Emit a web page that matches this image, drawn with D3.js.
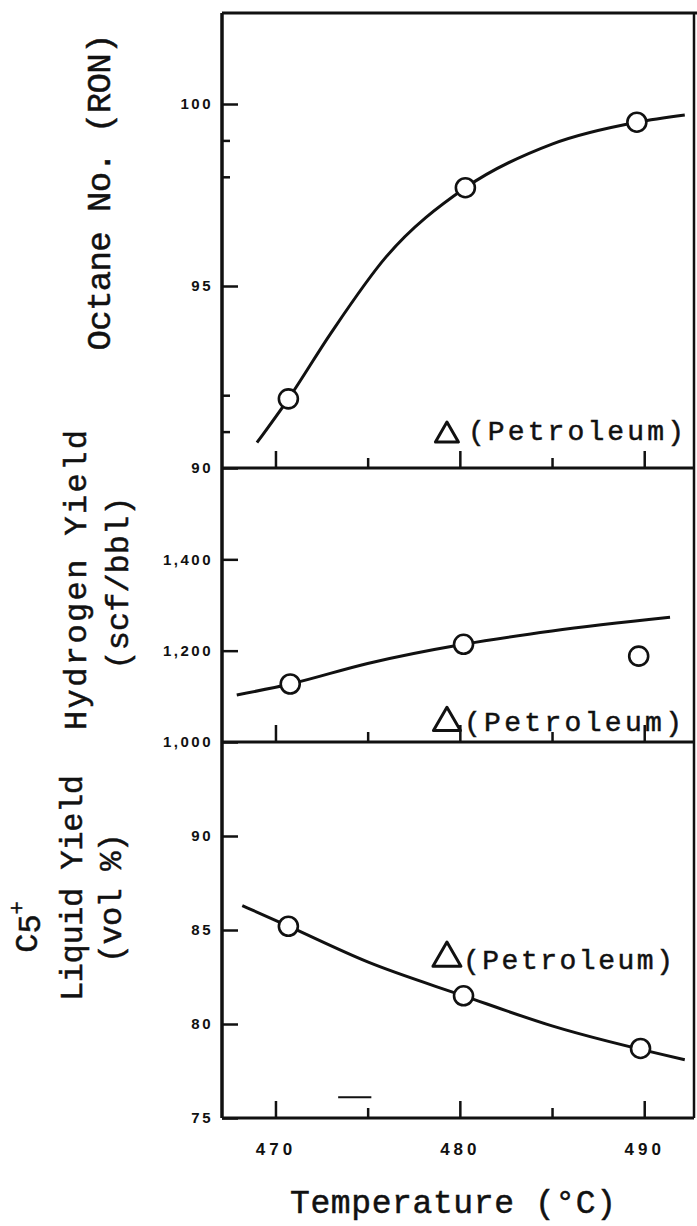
<!DOCTYPE html>
<html>
<head>
<meta charset="utf-8">
<script src="https://cdn.jsdelivr.net/npm/d3@7"></script>
<style>
  body { margin: 0; background: #fff; }
  svg { display: block; }
  .tick text { font-family: "Liberation Sans", Arial, sans-serif; font-weight: bold; fill: #111; }
  .title { stroke: #111; stroke-width: 0.5px; }
</style>
</head>
<body>
<div id="chart"></div>
<script>
// temperature axis (shared by all three panels)
const tempDomain = [467.1, 492.7];
const tempMajor = [470, 480, 490];
const tempMinor = [475, 485];

// top panel: octane number
const octaneDomain = [90, 102.5];
const octaneTicks = [90, 95, 100];
const octaneMinor = [91, 92, 98, 99];
const octaneTemp = [470.7, 480.3, 489.6];
const octaneRon = [91.9, 97.7, 99.5];
const octaneFitTemp = [469.0, 470.7, 473, 476, 480.3, 485, 489.6, 492.2];
const octaneFitRon = [90.7, 91.9, 93.7, 95.8, 97.7, 98.9, 99.5, 99.7];
const octanePetroleum = [479.3, 90.9];

// middle panel: hydrogen yield
const hydrogenDomain = [1000, 1600];
const hydrogenTicks = [1000, 1200, 1400];
const hydrogenTemp = [470.8, 480.2, 489.7];
const hydrogenYield = [1127, 1214, 1188];
const hydrogenFitTemp = [467.9, 470.8, 475, 480.2, 485, 491.4];
const hydrogenFitYield = [1103, 1127, 1172, 1214, 1243, 1273];
const hydrogenPetroleum = [479.3, 1042];

// bottom panel: C5+ liquid yield
const liquidDomain = [75, 95];
const liquidTicks = [75, 80, 85, 90];
const liquidTemp = [470.7, 480.2, 489.8];
const liquidYield = [85.2, 81.5, 78.7];
const liquidFitTemp = [468.2, 470.7, 475, 480.2, 485, 492.2];
const liquidFitYield = [86.3, 85.2, 83.3, 81.5, 79.9, 78.1];
const liquidPetroleum = [479.3, 83.5];

const width = 697, height = 1226;
const frameLeft = 222, frameRight = 694, frameTop = 13, frameBottom = 1118;
const ink = "#111";
const mono = "'Liberation Mono', 'DejaVu Sans Mono', monospace";

const svg = d3.select("#chart").append("svg")
    .attr("width", width)
    .attr("height", height);

const x = d3.scaleLinear().domain(tempDomain).range([frameLeft, frameRight]);

const panels = [
  {
    y: d3.scaleLinear().domain(octaneDomain).range([468, frameTop]),
    ticks: octaneTicks, minor: octaneMinor, fmt: d3.format("d"),
    temp: octaneTemp, vals: octaneRon,
    fitT: octaneFitTemp, fitV: octaneFitRon,
    pet: octanePetroleum, triSize: 229, petDx: 21, petDy: 5, petLen: 216
  },
  {
    y: d3.scaleLinear().domain(hydrogenDomain).range([742, 468]),
    ticks: hydrogenTicks, minor: [], fmt: d3.format(","),
    temp: hydrogenTemp, vals: hydrogenYield,
    fitT: hydrogenFitTemp, fitV: hydrogenFitYield,
    pet: hydrogenPetroleum, triSize: 315, petDx: 17, petDy: 8, petLen: 218
  },
  {
    y: d3.scaleLinear().domain(liquidDomain).range([frameBottom, 742]),
    ticks: liquidTicks, minor: [], fmt: d3.format("d"),
    temp: liquidTemp, vals: liquidYield,
    fitT: liquidFitTemp, fitV: liquidFitYield,
    pet: liquidPetroleum, triSize: 339, petDx: 16, petDy: 11, petLen: 210,
    last: true
  }
];

panels.forEach(p => {
  const yBottom = p.y.range()[0];

  // y ticks pointing inward
  const yAxis = svg.append("g")
      .attr("transform", `translate(${frameLeft},0)`)
      .call(d3.axisLeft(p.y).tickValues(p.ticks).tickSize(-16).tickPadding(9).tickFormat(p.fmt));
  yAxis.select(".domain").remove();
  yAxis.selectAll("line").attr("stroke", ink).attr("stroke-width", 2.5);
  yAxis.selectAll("text").style("font-size", "15px").attr("letter-spacing", 2.5);

  if (p.minor.length) {
    const yMinor = svg.append("g")
        .attr("transform", `translate(${frameLeft},0)`)
        .call(d3.axisLeft(p.y).tickValues(p.minor).tickSize(-8).tickFormat(""));
    yMinor.select(".domain").remove();
    yMinor.selectAll("line").attr("stroke", ink).attr("stroke-width", 2.5);
  }

  // temperature ticks pointing up from each panel floor
  const xAxis = svg.append("g")
      .attr("transform", `translate(0,${yBottom})`)
      .call(d3.axisBottom(x).tickValues(tempMajor).tickSize(-17).tickPadding(25)
        .tickFormat(p.last ? d3.format("d") : ""));
  xAxis.select(".domain").remove();
  xAxis.selectAll("line").attr("stroke", ink).attr("stroke-width", 2.5);
  xAxis.selectAll("text").style("font-size", "17px").attr("letter-spacing", 4);

  const xMinor = svg.append("g")
      .attr("transform", `translate(0,${yBottom})`)
      .call(d3.axisBottom(x).tickValues(tempMinor).tickSize(-10).tickFormat(""));
  xMinor.select(".domain").remove();
  xMinor.selectAll("line").attr("stroke", ink).attr("stroke-width", 2.5);

  // panel floor line
  svg.append("line")
      .attr("x1", frameLeft).attr("x2", frameRight)
      .attr("y1", yBottom).attr("y2", yBottom)
      .attr("stroke", ink).attr("stroke-width", 3);

  // fitted curve
  const fit = p.fitT.map((t, i) => [t, p.fitV[i]]);
  svg.append("path")
      .datum(fit)
      .attr("fill", "none")
      .attr("stroke", ink)
      .attr("stroke-width", 3)
      .attr("d", d3.line().x(d => x(d[0])).y(d => p.y(d[1])).curve(d3.curveMonotoneX));

  // measured points
  svg.selectAll(null)
      .data(p.temp.map((t, i) => [t, p.vals[i]]))
      .enter()
      .append("circle")
      .attr("cx", d => x(d[0]))
      .attr("cy", d => p.y(d[1]))
      .attr("r", 9.5)
      .attr("fill", "#fff")
      .attr("stroke", ink)
      .attr("stroke-width", 2.6);

  // petroleum reference
  const px = x(p.pet[0]), py = p.y(p.pet[1]);
  svg.append("path")
      .attr("transform", `translate(${px},${py})`)
      .attr("d", d3.symbol(d3.symbolTriangle, p.triSize)())
      .attr("fill", "none")
      .attr("stroke", ink)
      .attr("stroke-width", 3)
      .attr("stroke-linejoin", "round");
  svg.append("text")
      .attr("class", "title")
      .attr("x", px + p.petDx)
      .attr("y", py + p.petDy)
      .attr("textLength", p.petLen)
      .attr("lengthAdjust", "spacing")
      .style("font-family", mono)
      .style("font-size", "28px")
      .attr("fill", ink)
      .text("(Petroleum)");
});

// outer frame
svg.append("line").attr("x1", frameLeft).attr("x2", frameLeft).attr("y1", frameTop).attr("y2", frameBottom)
    .attr("stroke", ink).attr("stroke-width", 3.5);
svg.append("line").attr("x1", frameLeft).attr("x2", width).attr("y1", frameTop).attr("y2", frameTop)
    .attr("stroke", ink).attr("stroke-width", 3);
svg.append("line").attr("x1", frameRight).attr("x2", frameRight).attr("y1", frameTop).attr("y2", frameBottom)
    .attr("stroke", ink).attr("stroke-width", 2.5);

// stray dash in the bottom panel
const liqY = panels[2].y;
svg.append("line")
    .attr("x1", x(473.4)).attr("x2", x(475.2))
    .attr("y1", liqY(76.1)).attr("y2", liqY(76.1))
    .attr("stroke", ink).attr("stroke-width", 2);

// axis titles
function vTitle(cx, cy, len, txt, size) {
  return svg.append("text")
      .attr("class", "title")
      .attr("transform", `translate(${cx},${cy}) rotate(-90)`)
      .attr("text-anchor", "middle")
      .attr("textLength", len)
      .attr("lengthAdjust", "spacing")
      .style("font-family", mono)
      .style("font-size", size + "px")
      .attr("fill", ink)
      .text(txt);
}
vTitle(110, 192, 317, "Octane No. (RON)", 34);
vTitle(86, 580, 300, "Hydrogen Yield", 32);
vTitle(128, 583, 173, "(scf/bbl)", 32);
vTitle(82, 888, 226, "Liquid Yield", 32);
vTitle(121, 898, 130, "(vol %)", 32);

const c5 = svg.append("text")
    .attr("class", "title")
    .attr("transform", "translate(37,927) rotate(-90)")
    .attr("text-anchor", "middle")
    .style("font-family", mono)
    .style("font-size", "32px")
    .attr("fill", ink);
c5.append("tspan").text("C");
c5.append("tspan").attr("dy", 3).text("5");
c5.append("tspan").attr("dy", -16).style("font-size", "22px").text("+");

svg.append("text")
    .attr("class", "title")
    .attr("x", 453)
    .attr("y", 1213)
    .attr("text-anchor", "middle")
    .attr("textLength", 326)
    .attr("lengthAdjust", "spacing")
    .style("font-family", mono)
    .style("font-size", "33px")
    .attr("fill", ink)
    .text("Temperature (°C)");
</script>
</body>
</html>
